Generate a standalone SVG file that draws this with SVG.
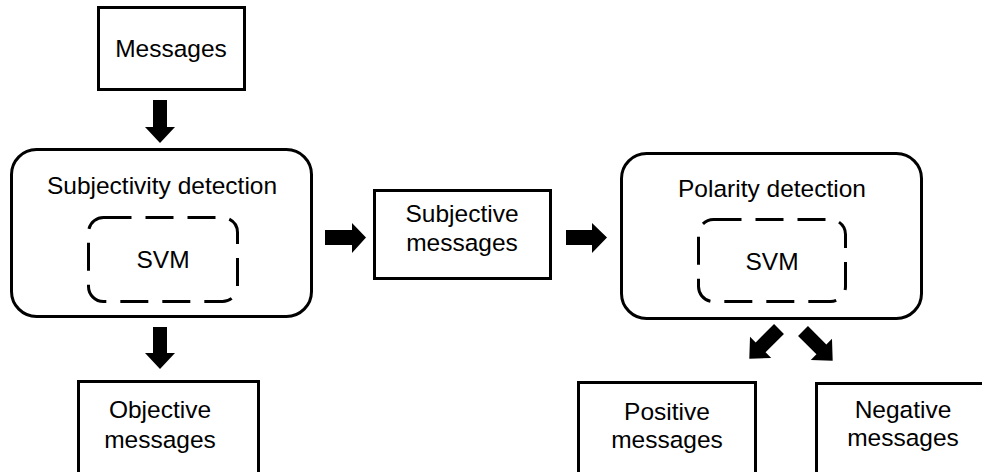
<svg xmlns="http://www.w3.org/2000/svg" width="982" height="472" viewBox="0 0 982 472">
<style>
.box{fill:#fff;stroke:#000;stroke-width:3}
.dash{fill:none;stroke:#000;stroke-width:3;stroke-dasharray:28 14}
.t{font-family:"Liberation Sans",Arial,sans-serif;font-size:24.5px;fill:#000;text-anchor:middle}
.arr{fill:#000;stroke:none}
</style>
<rect width="982" height="472" fill="#fff"/>
<g id="messages">
<rect class="box" x="98.5" y="7.5" width="146" height="82"/>
<text class="t" x="171" y="57">Messages</text>
</g>
<g id="subjectivity">
<rect class="box" x="11.5" y="149.5" width="300" height="167" rx="25"/>
<text class="t" x="162" y="194">Subjectivity detection</text>
<g id="svm1">
<rect class="dash" x="88.5" y="217.5" width="149" height="84" rx="15"/>
<text class="t" x="163" y="268">SVM</text>
</g>
</g>
<g id="subjective">
<rect class="box" x="374.5" y="190.5" width="176" height="88"/>
<text class="t" x="462" y="222">Subjective</text>
<text class="t" x="462" y="251">messages</text>
</g>
<g id="polarity">
<rect class="box" x="621.5" y="153.5" width="300" height="165" rx="25"/>
<text class="t" x="772" y="197">Polarity detection</text>
<g id="svm2">
<rect class="dash" x="698.5" y="219.5" width="147" height="82" rx="15"/>
<text class="t" x="772" y="270">SVM</text>
</g>
</g>
<g id="objective">
<rect class="box" x="78.5" y="381.5" width="180" height="100"/>
<text class="t" x="160" y="418">Objective</text>
<text class="t" x="160" y="448">messages</text>
</g>
<g id="positive">
<rect class="box" x="578.5" y="382.5" width="177" height="100"/>
<text class="t" x="667" y="420">Positive</text>
<text class="t" x="667" y="448">messages</text>
</g>
<g id="negative">
<rect class="box" x="816.5" y="383.5" width="180" height="100"/>
<text class="t" x="903" y="418">Negative</text>
<text class="t" x="903" y="446">messages</text>
</g>
<g id="connectors">
<polygon class="arr" points="153,100 167,100 167,127 175,127 160,143 145,127 153,127"/>
<polygon class="arr" points="153,327 167,327 167,353 175,353 160,369 145,353 153,353"/>
<polygon class="arr" points="325,230 352,230 352,223 366,237.5 352,253 352,245 325,245"/>
<polygon class="arr" points="566,230 592,230 592,223 607,237.5 592,253 592,245 566,245"/>
<polygon class="arr" transform="translate(779,329) rotate(135)" points="0,-7 26,-7 26,-15 42,0 26,15 26,7 0,7"/>
<polygon class="arr" transform="translate(803,331) rotate(45)" points="0,-7 26,-7 26,-15 42,0 26,15 26,7 0,7"/>
</g>
</svg>
